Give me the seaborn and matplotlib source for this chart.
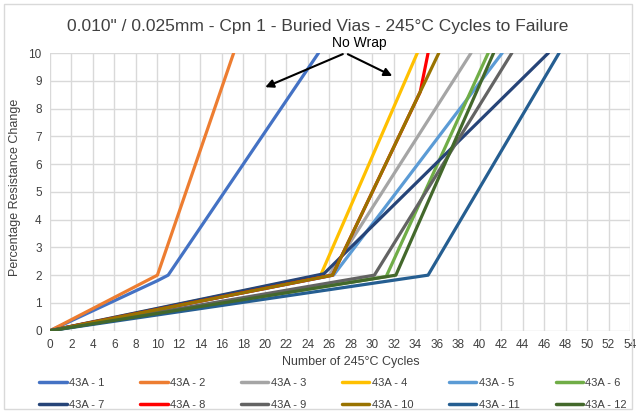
import matplotlib
matplotlib.use("Agg")
import matplotlib.pyplot as plt
from matplotlib.lines import Line2D
from matplotlib.patches import Rectangle
import seaborn as sns
import pandas as pd

sns.set_theme(style="white")
plt.rcParams['font.family'] = ['Liberation Sans Narrow', 'Liberation Sans', 'DejaVu Sans']

title = "0.010\" / 0.025mm - Cpn 1 - Buried Vias - 245°C Cycles to Failure"
series_names = ["43A - 1", "43A - 2", "43A - 3", "43A - 4", "43A - 5", "43A - 6",
                "43A - 7", "43A - 8", "43A - 9", "43A - 10", "43A - 11", "43A - 12"]
colors = ["#4472C4", "#ED7D31", "#A5A5A5", "#FFC000", "#5B9BD5", "#70AD47",
          "#264478", "#FF0000", "#636363", "#997300", "#255E91", "#43682B"]

x_1 = [0, 10, 11, 25.0];   y_1 = [0, 1.8, 2, 10]
x_2 = [0, 10, 17.1];       y_2 = [0, 2, 10]
x_3 = [0, 26.0, 39.2];     y_3 = [0, 2, 10]
x_4 = [0, 25.2, 34.2];     y_4 = [0, 2, 10]
x_5 = [0, 26.4, 42.1];     y_5 = [0, 2, 10]
x_6 = [0, 31.3, 40.8];     y_6 = [0, 1.95, 10]
x_7 = [0, 25.5, 46.4];     y_7 = [0, 2.05, 10]
x_8 = [0, 26.3, 34.47, 35.2]; y_8 = [0, 2, 8.6, 10]
x_9 = [0, 30.2, 43.0];     y_9 = [0, 2, 10]
x_10 = [0, 26.3, 36.2];    y_10 = [0, 2, 10]
x_11 = [0, 35.2, 47.4];    y_11 = [0, 2, 10]
x_12 = [0, 32.2, 41.3];    y_12 = [0, 2, 10]

xs = [x_1, x_2, x_3, x_4, x_5, x_6, x_7, x_8, x_9, x_10, x_11, x_12]
ys = [y_1, y_2, y_3, y_4, y_5, y_6, y_7, y_8, y_9, y_10, y_11, y_12]

x_ticks = list(range(0, 55, 2))
y_ticks = list(range(0, 11, 1))

rows = []
for name, xv, yv in zip(series_names, xs, ys):
    for a, b in zip(xv, yv):
        rows.append({"series": name, "cycles": a, "change": b})
df = pd.DataFrame(rows)

fig = plt.figure(figsize=(6.36, 4.13), dpi=100)
ax = fig.add_axes([50/636, 1-330.7/413, 580/636, (330.7-53)/413])

sns.lineplot(data=df, x="cycles", y="change", hue="series", hue_order=series_names,
             palette=dict(zip(series_names, colors)), estimator=None, sort=False,
             linewidth=2.3, legend=False, ax=ax)

ax.set_xlim(0, 54)
ax.set_ylim(0, 10)
ax.set_xticks(x_ticks)
ax.set_yticks(y_ticks)
ax.set_xticklabels([str(t) for t in x_ticks], fontsize=8.5, color="#404040")
ax.set_yticklabels([str(t) for t in y_ticks], fontsize=8.5, color="#404040")
ax.tick_params(axis="both", length=0, pad=6)
ax.grid(True, color="#D9D9D9", linewidth=1.0)
ax.set_axisbelow(True)
for s in ax.spines.values():
    s.set_visible(False)
ax.set_xlabel("")
ax.set_ylabel("")

fig.text(318/636, 1-27/413, title, ha="center", va="center", fontsize=12.5, color="#404040")
fig.text(351/636, 1-362/413, "Number of 245°C Cycles", ha="center", va="center", fontsize=9, color="#404040")
fig.text(15/636, 1-187/413, "Percentage Resistance Change", ha="center", va="center",
         rotation=90, fontsize=9, color="#404040")

# annotation
ax.annotate("", xy=(19.8, 8.73), xytext=(27.5, 10.0),
            arrowprops=dict(arrowstyle="-|>", color="black", lw=1.5, mutation_scale=12),
            annotation_clip=False)
ax.annotate("", xy=(32.1, 9.13), xytext=(27.5, 10.0),
            arrowprops=dict(arrowstyle="-|>", color="black", lw=1.5, mutation_scale=12),
            annotation_clip=False)
ax.text(28.8, 10.35, "No Wrap", ha="center", va="center", fontsize=10, color="black", clip_on=False)

handles = [Line2D([0], [0], color=c, lw=2.5) for c in colors]
order = []
for col in range(6):
    order += [col, col + 6]
fig.legend([handles[i] for i in order], [series_names[i] for i in order], ncol=6,
           loc="center", bbox_to_anchor=(333/636, 1-394/413),
           frameon=False, fontsize=8, handlelength=2.45, handletextpad=0.2,
           columnspacing=3.25, labelspacing=1.1, labelcolor="#404040")

fig.patches.append(Rectangle((4/636, 4/413), 628/636, 405/413, transform=fig.transFigure,
                             fill=False, edgecolor="#D9D9D9", linewidth=1))

fig.savefig("out.png", dpi=100)
